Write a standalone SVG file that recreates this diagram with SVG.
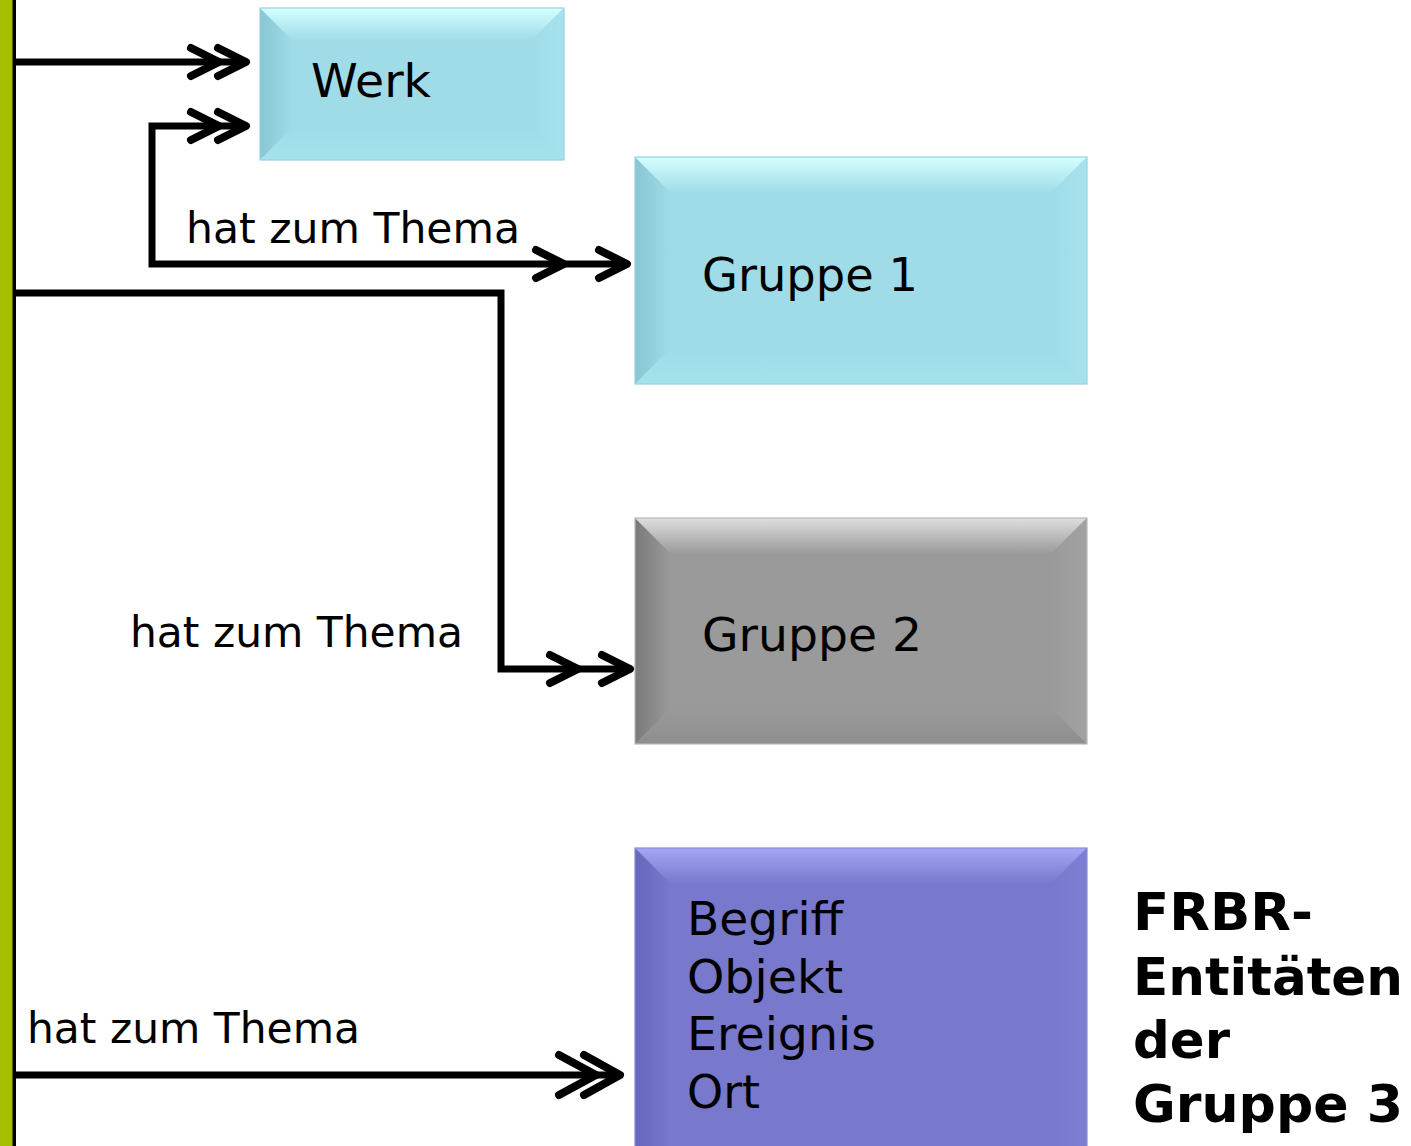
<svg xmlns="http://www.w3.org/2000/svg" xmlns:xlink="http://www.w3.org/1999/xlink" width="1411" height="1146" viewBox="0 0 1411 1146">
<defs>
<style>
.lbl{font-family:"DejaVu Sans",Verdana,sans-serif;font-size:43px;fill:#000}
.box{font-family:"DejaVu Sans",Verdana,sans-serif;font-size:47px;fill:#000}
.bold{font-family:"DejaVu Sans",Verdana,sans-serif;font-size:52px;font-weight:bold;fill:#000}
.ln{fill:none;stroke:#000;stroke-width:7;stroke-linejoin:miter}
.chev{fill:none;stroke:#000;stroke-width:8;stroke-linecap:round;stroke-linejoin:round}
</style>
<path id="chev" class="chev" d="M-28,-14 L0,0 L-28,14"/>
<linearGradient id="cTop" x1="0" y1="0" x2="0" y2="1"><stop offset="0" stop-color="#d4ffff"/><stop offset="1" stop-color="#a0dce8"/></linearGradient>
<linearGradient id="cLeft" x1="0" y1="0" x2="1" y2="0"><stop offset="0" stop-color="#88c6d2"/><stop offset="1" stop-color="#a0dce8"/></linearGradient>
<linearGradient id="cRight" x1="0" y1="0" x2="1" y2="0"><stop offset="0" stop-color="#a0dce8"/><stop offset="1" stop-color="#a6e3ee"/></linearGradient>
<linearGradient id="cBot" x1="0" y1="0" x2="0" y2="1"><stop offset="0" stop-color="#a0dce8"/><stop offset="1" stop-color="#a6e2ec"/></linearGradient>
<linearGradient id="gTop" x1="0" y1="0" x2="0" y2="1"><stop offset="0" stop-color="#dedede"/><stop offset="1" stop-color="#9a9a9a"/></linearGradient>
<linearGradient id="gLeft" x1="0" y1="0" x2="1" y2="0"><stop offset="0" stop-color="#7a7a7a"/><stop offset="1" stop-color="#9a9a9a"/></linearGradient>
<linearGradient id="gRight" x1="0" y1="0" x2="1" y2="0"><stop offset="0" stop-color="#9a9a9a"/><stop offset="1" stop-color="#a2a2a2"/></linearGradient>
<linearGradient id="gBot" x1="0" y1="0" x2="0" y2="1"><stop offset="0" stop-color="#9a9a9a"/><stop offset="1" stop-color="#8e8e8e"/></linearGradient>
<linearGradient id="pTop" x1="0" y1="0" x2="0" y2="1"><stop offset="0" stop-color="#a6a6f6"/><stop offset="1" stop-color="#7878cc"/></linearGradient>
<linearGradient id="pLeft" x1="0" y1="0" x2="1" y2="0"><stop offset="0" stop-color="#6666ba"/><stop offset="1" stop-color="#7878cc"/></linearGradient>
<linearGradient id="pRight" x1="0" y1="0" x2="1" y2="0"><stop offset="0" stop-color="#7878cc"/><stop offset="1" stop-color="#7e7ed4"/></linearGradient>
</defs>
<rect x="0" y="0" width="1411" height="1146" fill="#ffffff"/>

<g id="sidebar">
<rect x="0" y="0" width="13" height="1146" fill="#a6bf00"/>
<rect x="12.5" y="0" width="3.5" height="1146" fill="#000"/>
</g>

<g id="werk">
<rect x="260" y="8" width="304" height="152" fill="#a0dce8"/>
<polygon points="260,8 292,40 292,128 260,160" fill="url(#cLeft)"/>
<polygon points="260,8 564,8 532,40 292,40" fill="url(#cTop)"/>
<polygon points="564,8 564,160 532,128 532,40" fill="url(#cRight)"/>
<polygon points="260,160 292,128 532,128 564,160" fill="url(#cBot)"/>
<rect x="260" y="8" width="304" height="152" fill="none" stroke="#98d2de" stroke-width="1.2"/>
<text class="box" x="311" y="97" textLength="120" lengthAdjust="spacingAndGlyphs">Werk</text>
</g>

<g id="gruppe1">
<rect x="635" y="157" width="452" height="227" fill="#a0dce8"/>
<polygon points="635,157 671,193 671,348 635,384" fill="url(#cLeft)"/>
<polygon points="635,157 1087,157 1051,193 671,193" fill="url(#cTop)"/>
<polygon points="1087,157 1087,384 1051,348 1051,193" fill="url(#cRight)"/>
<polygon points="635,384 671,348 1051,348 1087,384" fill="url(#cBot)"/>
<rect x="635" y="157" width="452" height="227" fill="none" stroke="#98d2de" stroke-width="1.2"/>
<text class="box" x="702" y="291" textLength="216" lengthAdjust="spacingAndGlyphs">Gruppe 1</text>
</g>

<g id="gruppe2">
<rect x="635" y="518" width="452" height="226" fill="#9a9a9a"/>
<polygon points="635,518 671,554 671,708 635,744" fill="url(#gLeft)"/>
<polygon points="635,518 1087,518 1051,554 671,554" fill="url(#gTop)"/>
<polygon points="1087,518 1087,744 1051,708 1051,554" fill="url(#gRight)"/>
<polygon points="635,744 671,708 1051,708 1087,744" fill="url(#gBot)"/>
<rect x="635" y="518" width="452" height="226" fill="none" stroke="#b8b8b8" stroke-width="1.2"/>
<text class="box" x="702" y="651" textLength="220" lengthAdjust="spacingAndGlyphs">Gruppe 2</text>
</g>

<g id="gruppe3">
<rect x="635" y="848" width="452" height="300" fill="#7878cc"/>
<polygon points="635,848 671,884 671,1148 635,1148" fill="url(#pLeft)"/>
<polygon points="635,848 1087,848 1051,884 671,884" fill="url(#pTop)"/>
<polygon points="1087,848 1087,1148 1051,1148 1051,884" fill="url(#pRight)"/>
<rect x="635" y="848" width="452" height="300" fill="none" stroke="#8a8ad8" stroke-width="1.2"/>
<text class="box" x="687" y="935" textLength="156" lengthAdjust="spacingAndGlyphs">Begriff</text>
<text class="box" x="687" y="993" textLength="156" lengthAdjust="spacingAndGlyphs">Objekt</text>
<text class="box" x="687" y="1050" textLength="189" lengthAdjust="spacingAndGlyphs">Ereignis</text>
<text class="box" x="687" y="1108" textLength="73" lengthAdjust="spacingAndGlyphs">Ort</text>
</g>

<g id="caption">
<text class="bold" x="1133" y="930" textLength="180" lengthAdjust="spacingAndGlyphs">FRBR-</text>
<text class="bold" x="1133" y="995" textLength="270" lengthAdjust="spacingAndGlyphs">Entitäten</text>
<text class="bold" x="1133" y="1058" textLength="97" lengthAdjust="spacingAndGlyphs">der</text>
<text class="bold" x="1133" y="1122" textLength="270" lengthAdjust="spacingAndGlyphs">Gruppe 3</text>
</g>

<g id="connectors">
<polyline class="ln" points="14,62 244,62"/>
<use xlink:href="#chev" x="219" y="62"/>
<use xlink:href="#chev" x="246" y="62"/>

<polyline class="ln" points="244,126 152,126 152,264 625,264"/>
<use xlink:href="#chev" x="219" y="126"/>
<use xlink:href="#chev" x="246" y="126"/>
<use xlink:href="#chev" x="564" y="264"/>
<use xlink:href="#chev" x="627" y="264"/>

<polyline class="ln" points="14,293 501,293 501,669 628,669"/>
<use xlink:href="#chev" x="578" y="669"/>
<use xlink:href="#chev" x="630" y="669"/>

<polyline class="ln" points="14,1075 616,1075"/>
<path class="chev" d="M559,1055 L596,1075 L559,1095"/>
<path class="chev" d="M584,1055 L620,1075 L584,1095"/>
</g>

<g id="labels">
<text class="lbl" x="186" y="243" textLength="334" lengthAdjust="spacingAndGlyphs">hat zum Thema</text>
<text class="lbl" x="130" y="647" textLength="333" lengthAdjust="spacingAndGlyphs">hat zum Thema</text>
<text class="lbl" x="27" y="1043" textLength="333" lengthAdjust="spacingAndGlyphs">hat zum Thema</text>
</g>
</svg>
